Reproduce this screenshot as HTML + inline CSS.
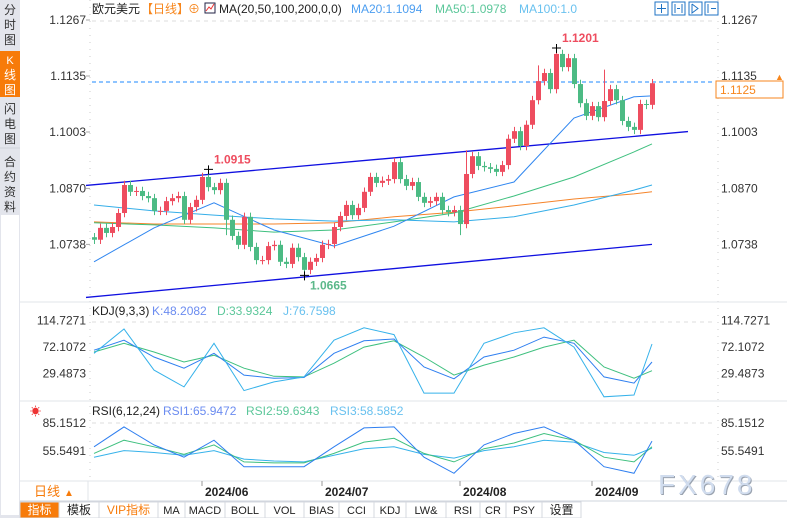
<!DOCTYPE html>
<html><head><meta charset="utf-8">
<style>
body{margin:0;width:787px;height:518px;overflow:hidden;background:#fff;font-family:"Liberation Sans","Noto Sans CJK SC",sans-serif;}
svg{position:absolute;left:0;top:0}
text{font-family:"Liberation Sans","Noto Sans CJK SC",sans-serif}
</style></head><body>
<svg id="c" width="787" height="518" xmlns="http://www.w3.org/2000/svg">
<rect x="0" y="0" width="20" height="518" fill="#e3e5ec"/>
<g><text x="10" y="14" font-size="12" text-anchor="middle" fill="#333">分</text><text x="10" y="29" font-size="12" text-anchor="middle" fill="#333">时</text><text x="10" y="44" font-size="12" text-anchor="middle" fill="#333">图</text></g>
<g><rect x="0" y="51" width="20" height="46" fill="#f77b0a"/><text x="10" y="64" font-size="11" text-anchor="middle" fill="#fff">K</text><text x="10" y="79" font-size="12" text-anchor="middle" fill="#fff">线</text><text x="10" y="94" font-size="12" text-anchor="middle" fill="#fff">图</text></g>
<g><text x="10" y="113" font-size="12" text-anchor="middle" fill="#333">闪</text><text x="10" y="128" font-size="12" text-anchor="middle" fill="#333">电</text><text x="10" y="143" font-size="12" text-anchor="middle" fill="#333">图</text></g>
<line x1="0" y1="148" x2="20" y2="148" stroke="#cfd2da"/>
<g><text x="10" y="166" font-size="12" text-anchor="middle" fill="#333">合</text><text x="10" y="181" font-size="12" text-anchor="middle" fill="#333">约</text><text x="10" y="196" font-size="12" text-anchor="middle" fill="#333">资</text><text x="10" y="211" font-size="12" text-anchor="middle" fill="#333">料</text></g>
<rect x="1" y="215" width="18" height="300" fill="#fff"/>
<line x1="90" y1="0" x2="90" y2="480" stroke="#ccc" stroke-dasharray="1,6"/>
<line x1="718" y1="0" x2="718" y2="480" stroke="#ccc" stroke-dasharray="1,6"/>
<line x1="20" y1="302" x2="787" y2="302" stroke="#e2e4ea"/>
<line x1="20" y1="401" x2="787" y2="401" stroke="#e2e4ea"/>
<line x1="20" y1="481" x2="787" y2="481" stroke="#e2e4ea"/>
<line x1="20" y1="501" x2="787" y2="501" stroke="#cfd4dc"/>
<line x1="92" y1="21" x2="712" y2="21" stroke="#ddd" stroke-dasharray="4,4"/>
<line x1="92" y1="322" x2="712" y2="322" stroke="#ddd" stroke-dasharray="4,4"/>
<line x1="92" y1="423" x2="712" y2="423" stroke="#ddd" stroke-dasharray="4,4"/>
<line x1="92" y1="82" x2="712" y2="82" stroke="#1e88ff" stroke-dasharray="4,3"/>
<g font-size="12" fill="#222">
<text x="92" y="13">欧元美元</text><text x="141" y="13" fill="#f7861c">【日线】</text><text x="188" y="13" fill="#f7861c">⊕</text>
<rect x="205" y="3" width="10" height="10" fill="#fff" stroke="#224" /><polyline points="206,11 209,7 211,9 214,4" fill="none" stroke="#e33"/>
<text x="219" y="13">MA(20,50,100,200,0,0)</text>
<text x="351" y="13" fill="#4d9ef0">MA20:1.1094</text><text x="435" y="13" fill="#5cc79a">MA50:1.0978</text><text x="519" y="13" fill="#69c1ef">MA100:1.0</text>
</g>
<g fill="none" stroke="#1f73c4">
<rect x="655" y="2" width="13" height="13"/><rect x="672" y="2" width="13" height="13"/><rect x="689" y="2" width="13" height="13"/><rect x="705" y="2" width="13" height="13"/>
<path d="M661.5 4v9M657 8.5h9M675 4v9M682 4v9M677 8.5h3M692 4v9l6-4.5-6-4.5M708 4v9M711 8.5h5"/>
</g>
<g id="axisL" font-size="12" fill="#333" text-anchor="end"></g>
<g id="axisR" font-size="12" fill="#333"></g>
<g id="main"></g>
<g id="kdj"></g>
<g id="rsi"></g>
<g font-size="12" fill="#222"><text x="92" y="315">KDJ(9,3,3)</text><text x="152" y="315" fill="#6b8cf0">K:48.2082</text><text x="217" y="315" fill="#5cc79a">D:33.9324</text><text x="283" y="315" fill="#69c1ef">J:76.7598</text></g>
<g font-size="12" fill="#222"><text x="30" y="415" fill="#e33" font-size="11">☀</text><text x="92" y="415">RSI(6,12,24)</text><text x="163" y="415" fill="#6b8cf0">RSI1:65.9472</text><text x="246" y="415" fill="#5cc79a">RSI2:59.6343</text><text x="330" y="415" fill="#69c1ef">RSI3:58.5852</text></g>
<rect x="716" y="81" width="67" height="17" fill="#fff" stroke="#f7861c"/>
<text x="720" y="94" font-size="12" fill="#f7861c">1.1125</text>
<text x="775" y="80" font-size="9" fill="#f7861c">▲</text>
<text x="659" y="495" font-size="28" fill="#9aa3b0" letter-spacing="3">FX678</text>
<text x="658" y="494" font-size="28" fill="#d0dcee" letter-spacing="3">FX678</text>
<g id="xaxis" font-size="12" font-weight="bold" fill="#222"></g>
<g><text x="34" y="496" font-size="13" fill="#f77b0a">日线</text><text x="64" y="496" font-size="10" fill="#f77b0a">▲</text></g>
<line x1="88" y1="481" x2="88" y2="501" stroke="#e2e4ea"/>
<g id="tabs" font-size="12"></g>
</svg>
<script>
const closes=[1.0749,1.0777,1.0765,1.0779,1.0812,1.0878,1.0862,1.0864,1.0852,1.0847,1.0817,1.0817,1.0840,1.0847,1.0852,1.0796,1.0826,1.0843,1.0897,1.0873,1.0866,1.0883,1.0796,1.0758,1.0737,1.0803,1.0732,1.0701,1.0701,1.0734,1.0737,1.0697,1.0692,1.0730,1.0708,1.0678,1.0697,1.0706,1.0737,1.0739,1.0779,1.0805,1.0831,1.0807,1.0824,1.0862,1.0897,1.0883,1.0888,1.0892,1.0932,1.0892,1.0876,1.0885,1.0850,1.0836,1.0840,1.0850,1.0819,1.0814,1.0819,1.0786,1.0904,1.0946,1.0923,1.0920,1.0916,1.0909,1.0925,1.0987,1.1005,1.0970,1.1020,1.1078,1.1123,1.1142,1.1104,1.1187,1.1156,1.1177,1.1116,1.1071,1.1041,1.1064,1.1038,1.1076,1.1104,1.1078,1.1029,1.1015,1.1008,1.1069,1.1067,1.1118];
const opens=[1.0755,1.0749,1.0777,1.0765,1.0779,1.0812,1.0878,1.0862,1.0864,1.0852,1.0847,1.0817,1.0817,1.0840,1.0847,1.0852,1.0796,1.0826,1.0843,1.0897,1.0873,1.0866,1.0883,1.0796,1.0758,1.0737,1.0803,1.0732,1.0701,1.0701,1.0734,1.0737,1.0697,1.0692,1.0730,1.0708,1.0678,1.0697,1.0706,1.0737,1.0739,1.0779,1.0805,1.0831,1.0807,1.0824,1.0862,1.0897,1.0883,1.0888,1.0892,1.0932,1.0892,1.0876,1.0885,1.0850,1.0836,1.0840,1.0850,1.0819,1.0814,1.0819,1.0786,1.0904,1.0946,1.0923,1.0920,1.0916,1.0909,1.0925,1.0987,1.1005,1.0970,1.1020,1.1078,1.1123,1.1142,1.1104,1.1187,1.1156,1.1177,1.1116,1.1071,1.1041,1.1064,1.1038,1.1076,1.1104,1.1078,1.1029,1.1015,1.1008,1.1069,1.1067];
const wickHigh={19:1.0915,77:1.1201,62:1.0960,74:1.1160,85:1.1150};
const wickLow={35:1.0665,61:1.0760,22:1.0760};
const maIdx=[0,10,20,30,40,50,60,70,80,90,93];
const ma20=[1.0697,1.0777,1.0836,1.0772,1.0734,1.0781,1.0850,1.0885,1.1036,1.1086,1.1088];
const ma50=[1.0789,1.0784,1.0777,1.0767,1.0772,1.0791,1.0812,1.0852,1.0897,1.0956,1.0975];
const ma100=[1.0831,1.0817,1.0807,1.0798,1.0793,1.0796,1.0791,1.0803,1.0831,1.0866,1.0878];
const ma200=[1.0791,1.0786,1.0786,1.0786,1.0789,1.0803,1.0814,1.0829,1.0845,1.0857,1.0862];
const chanUpper=[[-1,1.0877],[99,1.1004]];
const chanLower=[[-1,1.0613],[93,1.0738]];
const priceTicks=["1.1267","1.1135","1.1003","1.0870","1.0738"];
const indIdx=[0,5,10,15,20,25,30,35,40,45,50,55,60,65,70,75,80,85,90,93];
const kVals=[67,83,56,38,62,27,22,23,62,82,85,40,21,56,67,88,78,24,14,48];
const dVals=[64,78,64,48,59,38,25,24,46,72,82,56,27,43,56,72,83,40,22,34];
const jVals=[62,101,35,8,78,2,16,24,83,103,92,-2,-2,78,95,103,72,-8,-5,77];
const kdjTicks=["114.7271","72.1072","29.4873"];
const rsi1=[60,81,62,49,67,39,39,39,60,80,81,49,32,62,74,81,67,39,32,66];
const rsi2=[53,67,60,52,62,44,43,43,53,65,69,53,44,58,64,74,67,49,44,60];
const rsi3=[49,56,54,51,56,47,45,44,51,58,60,52,48,56,60,67,65,54,51,58.6];
const rsiTicks=["85.1512","55.5491"];
const months=["2024/06","2024/07","2024/08","2024/09"];
const monthIdx=[18,38,61,83];
const tabNames=["指标","模板","VIP指标","MA","MACD","BOLL","VOL","BIAS","CCI","KDJ","LW&","RSI","CR","PSY","设置"];

const NS="http://www.w3.org/2000/svg";
function el(t,a,p){const e=document.createElementNS(NS,t);for(const k in a)e.setAttribute(k,a[k]);p.appendChild(e);return e;}
const X=i=>94+i*6;
const PY=p=>20+(1.1267-p)*4242;
const KY=v=>347-(v-72.1072)*0.622;
const RY=v=>451-(v-55.5491)*0.946;
const main=document.getElementById('main');
const RED="#ee4d5f",GREEN="#4cbb84";
const aL=document.getElementById('axisL'),aR=document.getElementById('axisR');
priceTicks.forEach(t=>{const y=PY(parseFloat(t));
 let a=el('text',{x:86,y:y+4},aL);a.textContent=t;
 let b=el('text',{x:721,y:y+4},aR);b.textContent=t;
 el('line',{x1:86,y1:y,x2:90,y2:y,stroke:'#aaa'},aL);});
kdjTicks.forEach(t=>{const y=KY(parseFloat(t));
 let a=el('text',{x:86,y:y+4},aL);a.textContent=t;
 let b=el('text',{x:721,y:y+4},aR);b.textContent=t;});
rsiTicks.forEach(t=>{const y=RY(parseFloat(t));
 let a=el('text',{x:86,y:y+4},aL);a.textContent=t;
 let b=el('text',{x:721,y:y+4},aR);b.textContent=t;});
[chanUpper,chanLower].forEach((c,k)=>{const l=el('line',{x1:X(c[0][0])-2,y1:PY(c[0][1]),x2:X(c[1][0]),y2:PY(c[1][1]),stroke:'#1010e0','stroke-width':1.3},main);
 });
function poly(idx,vals,yf,col,g,name){const pts=idx.map((i,k)=>X(i)+','+yf(vals[k]).toFixed(1)).join(' ');
 const p=el('polyline',{points:pts,fill:'none',stroke:col,'stroke-width':1},g);}
poly(maIdx,ma200,PY,'#f5842a',main,'ma200-line');
poly(maIdx,ma100,PY,'#35aee8',main,'ma100-line');
poly(maIdx,ma50,PY,'#3fc07f',main,'ma50-line');
poly(maIdx,ma20,PY,'#2f86f0',main,'ma20-line');
closes.forEach((c,i)=>{const o=opens[i];const up=c>=o;const col=up?RED:GREEN;
 const hi=wickHigh[i]!==undefined?wickHigh[i]:Math.max(o,c)+0.0010;const lo=wickLow[i]!==undefined?wickLow[i]:Math.min(o,c)-0.0010;
 const g=el('g',{},main);
 el('line',{x1:X(i)+0.5,y1:PY(hi),x2:X(i)+0.5,y2:PY(lo),stroke:col},g);
 const t=PY(Math.max(o,c)),b=PY(Math.min(o,c));el('rect',{x:X(i)-2,y:t,width:5,height:Math.max(1,b-t),fill:col},g);});
[[19,1.0915,'#ee4d5f',-6,'high-label-1'],[35,1.0665,'#5cb88a',14,'low-label'],[77,1.1201,'#ee4d5f',-6,'high-label-2']].forEach(a=>{
 const y=PY(a[1]);el('path',{d:`M${X(a[0])-4} ${y}h9M${X(a[0])+0.5} ${y-4}v9`,stroke:'#000'},main);
 const t=el('text',{x:X(a[0])+6,y:y+a[3],'font-size':12,'font-weight':'bold',fill:a[2]},main);t.textContent=a[1].toFixed(4);
 });
const kg=document.getElementById('kdj');
poly(indIdx,dVals,KY,'#3fc07f',kg,'kdj-d-line');poly(indIdx,kVals,KY,'#2f7ff0',kg,'kdj-k-line');poly(indIdx,jVals,KY,'#36b2ea',kg,'kdj-j-line');
const rg=document.getElementById('rsi');
poly(indIdx,rsi3,RY,'#36b2ea',rg,'rsi3-line');poly(indIdx,rsi2,RY,'#3fc07f',rg,'rsi2-line');poly(indIdx,rsi1,RY,'#2f7ff0',rg,'rsi1-line');
const xa=document.getElementById('xaxis');
months.forEach((m,k)=>{const x=X(monthIdx[k]);el('line',{x1:x,y1:481,x2:x,y2:486,stroke:'#999'},xa);
 const t=el('text',{x:x+3,y:496},xa);t.textContent=m;});
const tb=document.getElementById('tabs');const bounds=[20,59,99,158,185,225,265,304,339,374,406,446,480,506,542,581];
tabNames.forEach((n,k)=>{const x0=bounds[k],x1=bounds[k+1];const g=el('g',{},tb);
 
 el('rect',{x:x0,y:502,width:x1-x0,height:16,fill:k==0?'#f77b0a':'#fff',stroke:'#d6d9df'},g);
 const t=el('text',{x:(x0+x1)/2,y:514,'text-anchor':'middle',fill:k==0?'#fff':(k==2?'#f77b0a':'#222'),'font-family':k>2&&k<14?'Liberation Mono':'Liberation Sans','font-size':k>2&&k<14?11:12},g);t.textContent=n;});
</script>
</body></html>
